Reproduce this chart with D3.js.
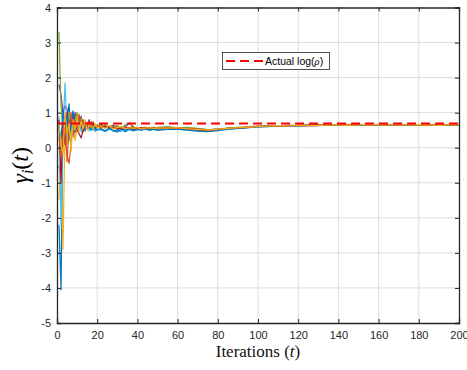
<!DOCTYPE html>
<html><head><meta charset="utf-8">
<script src="https://cdn.jsdelivr.net/npm/d3@7"></script>
<style>body{margin:0;background:#fff;} svg{display:block;}</style>
</head><body>
<script>
const iterations = [1,2,3,4,5,6,7,8,9,10,11,12,13,14,15,16,17,18,19,20,
  22,24,26,28,30,32,34,36,38,40,42,44,46,48,50,
  55,60,65,70,75,80,85,90,95,100,105,110,115,120,125,130,135,140,145,150,155,160,165,170,175,180,185,190,195,200];

const agent1 = [-2.2,-4.05,0.9,0.3,0.8,1.25,0.4,1.0,0.5,0.85,0.55,0.75,0.5,0.7,0.6,0.55,0.68,0.6,0.47,0.64,
  0.5,0.48,0.55,0.47,0.45,0.52,0.46,0.52,0.5,0.55,0.5,0.54,0.5,0.53,0.5,
  0.55,0.56,0.53,0.5,0.49,0.52,0.53,0.56,0.58,0.6,0.63,0.62,0.64,0.63,0.64,0.65,0.64,0.66,0.65,0.64,0.66,0.65,0.65,0.66,0.65,0.64,0.65,0.66,0.65,0.65];
const agent2 = [-0.5,-1.0,0.9,0.2,-0.2,-0.45,0.1,0.9,0.4,0.9,0.5,0.8,0.45,0.72,0.58,0.66,0.52,0.7,0.6,0.62,
  0.65,0.58,0.6,0.62,0.55,0.57,0.6,0.54,0.56,0.58,0.54,0.55,0.58,0.54,0.57,
  0.56,0.55,0.57,0.53,0.52,0.51,0.56,0.57,0.6,0.62,0.61,0.63,0.62,0.64,0.63,0.65,0.65,0.64,0.65,0.66,0.65,0.65,0.66,0.64,0.65,0.65,0.66,0.65,0.64,0.65];
const agent3 = [-1.5,-0.2,-2.9,0.6,0.1,0.9,0.3,0.7,0.2,0.6,0.8,0.5,0.65,0.45,0.7,0.55,0.62,0.5,0.64,0.58,
  0.55,0.62,0.57,0.6,0.52,0.56,0.58,0.55,0.53,0.57,0.56,0.54,0.57,0.56,0.53,
  0.57,0.54,0.56,0.52,0.5,0.53,0.54,0.58,0.57,0.61,0.6,0.62,0.63,0.62,0.64,0.64,0.65,0.65,0.64,0.65,0.65,0.66,0.65,0.65,0.64,0.66,0.65,0.65,0.66,0.65];
const agent4 = [1.8,1.5,1.0,1.2,1.1,0.7,0.9,0.6,1.0,0.8,0.65,0.9,0.6,0.75,0.65,0.8,0.6,0.7,0.66,0.6,
  0.66,0.6,0.58,0.64,0.58,0.55,0.6,0.7,0.6,0.54,0.57,0.56,0.54,0.58,0.56,
  0.58,0.56,0.55,0.54,0.5,0.54,0.55,0.57,0.59,0.6,0.62,0.63,0.62,0.63,0.64,0.64,0.65,0.65,0.66,0.65,0.64,0.65,0.66,0.65,0.65,0.65,0.64,0.65,0.66,0.65];
const agent5 = [3.3,1.2,0.5,0.9,0.6,1.0,0.7,0.5,0.8,1.0,0.7,0.85,0.6,0.72,0.55,0.68,0.62,0.75,0.58,0.66,
  0.62,0.66,0.58,0.6,0.63,0.56,0.66,0.7,0.57,0.53,0.58,0.55,0.57,0.55,0.58,
  0.6,0.57,0.58,0.55,0.52,0.53,0.56,0.58,0.59,0.61,0.62,0.61,0.63,0.64,0.63,0.64,0.65,0.64,0.65,0.65,0.66,0.65,0.64,0.65,0.66,0.65,0.65,0.64,0.65,0.66];
const agent6 = [0.9,-2.2,0.5,1.85,0.3,0.9,0.6,0.4,0.8,0.5,0.7,0.45,0.62,0.5,0.66,0.48,0.6,0.52,0.47,0.55,
  0.5,0.46,0.52,0.48,0.5,0.46,0.53,0.5,0.48,0.52,0.5,0.53,0.49,0.52,0.5,
  0.53,0.52,0.5,0.48,0.47,0.5,0.52,0.55,0.57,0.59,0.6,0.62,0.61,0.63,0.63,0.64,0.64,0.65,0.64,0.65,0.65,0.64,0.65,0.65,0.64,0.65,0.65,0.64,0.65,0.64];
const agent7 = [0.8,-1.0,0.7,0.1,1.0,0.5,0.9,0.6,0.7,0.5,0.4,0.28,0.5,0.62,0.55,0.7,0.58,0.62,0.55,0.6,
  0.57,0.62,0.55,0.58,0.53,0.56,0.55,0.58,0.52,0.55,0.57,0.53,0.56,0.54,0.55,
  0.54,0.55,0.53,0.51,0.49,0.52,0.55,0.56,0.58,0.6,0.61,0.62,0.63,0.63,0.64,0.63,0.65,0.64,0.65,0.65,0.65,0.66,0.65,0.64,0.65,0.65,0.65,0.66,0.65,0.65];
const agent8 = [0.6,0.2,1.1,0.5,0.9,0.2,0.7,1.05,0.45,0.7,0.9,0.55,0.75,0.5,0.62,0.58,0.5,0.64,0.55,0.5,
  0.54,0.48,0.56,0.5,0.47,0.53,0.5,0.55,0.49,0.52,0.5,0.55,0.51,0.53,0.5,
  0.52,0.53,0.5,0.47,0.46,0.49,0.53,0.55,0.57,0.6,0.61,0.62,0.62,0.63,0.64,0.64,0.65,0.65,0.65,0.64,0.65,0.65,0.66,0.65,0.65,0.65,0.65,0.65,0.64,0.65];
const agent9 = [0.3,-0.3,0.4,0.8,-0.4,0.6,1.0,0.3,0.8,0.55,0.95,0.6,0.8,0.55,0.7,0.6,0.75,0.58,0.66,0.6,
  0.63,0.57,0.62,0.55,0.6,0.55,0.58,0.56,0.6,0.54,0.57,0.58,0.55,0.57,0.56,
  0.57,0.56,0.55,0.53,0.51,0.52,0.55,0.57,0.58,0.61,0.62,0.62,0.63,0.64,0.64,0.65,0.64,0.65,0.66,0.65,0.65,0.65,0.65,0.66,0.65,0.65,0.64,0.65,0.65,0.66];
const agent10 = [0.7,0.1,-0.2,1.0,0.4,0.7,-0.1,0.8,0.5,0.9,0.45,0.75,0.55,0.8,0.5,0.65,0.6,0.55,0.68,0.57,
  0.6,0.55,0.64,0.53,0.58,0.6,0.54,0.57,0.55,0.58,0.53,0.56,0.57,0.55,0.56,
  0.56,0.57,0.54,0.52,0.5,0.53,0.55,0.57,0.59,0.6,0.62,0.63,0.62,0.64,0.63,0.64,0.65,0.65,0.64,0.65,0.66,0.65,0.65,0.65,0.65,0.66,0.65,0.64,0.65,0.65];

const agents = [agent1,agent2,agent3,agent4,agent5,agent6,agent7,agent8,agent9,agent10];
const lineColors = ["#0072BD","#D95319","#EDB120","#7E2F8E","#77AC30","#4DBEEE","#A2142F"];
const actualLogRho = 0.693;
const xTicks = [0,20,40,60,80,100,120,140,160,180,200];
const yTicks = [-5,-4,-3,-2,-1,0,1,2,3,4];

const W = 467, H = 370;
const L = 57, R = 459, T = 7.5, B = 323;
const svg = d3.select("body").append("svg").attr("width", W).attr("height", H);
const x = d3.scaleLinear().domain([0,200]).range([L,R]);
const y = d3.scaleLinear().domain([-5,4]).range([B,T]);
const axisColor = "#262626";

// grid
const grid = svg.append("g");
grid.selectAll("line.gx").data(xTicks.slice(1,-1)).join("line")
  .attr("x1", d=>x(d)).attr("x2", d=>x(d)).attr("y1", T).attr("y2", B)
  .attr("stroke","#dcdcdc").attr("stroke-width",1);
grid.selectAll("line.gy").data(yTicks.slice(1,-1)).join("line")
  .attr("y1", d=>y(d)).attr("y2", d=>y(d)).attr("x1", L).attr("x2", R)
  .attr("stroke","#dcdcdc").attr("stroke-width",1);

// series
const line = d3.line().x((d,i)=>x(iterations[i])).y(d=>y(d));
const clip = svg.append("clipPath").attr("id","clip").append("rect")
  .attr("x",L).attr("y",T).attr("width",R-L).attr("height",B-T);
const plot = svg.append("g").attr("clip-path","url(#clip)");
agents.forEach((a,k)=>{
  plot.append("path").attr("d", line(a)).attr("fill","none")
    .attr("stroke", lineColors[k % lineColors.length]).attr("stroke-width",1.2)
    .attr("stroke-linejoin","round");
});
plot.append("line").attr("x1",x(0)).attr("x2",x(200))
  .attr("y1",y(actualLogRho)).attr("y2",y(actualLogRho))
  .attr("stroke","#FF0000").attr("stroke-width",2).attr("stroke-dasharray","9,5");

// axes
const tickSize = 4;
const fmt = d => String(d);
const gxB = svg.append("g").attr("transform",`translate(0,${B})`)
  .call(d3.axisBottom(x).tickValues(xTicks).tickSize(-tickSize).tickPadding(8).tickFormat(fmt));
const gxT = svg.append("g").attr("transform",`translate(0,${T})`)
  .call(d3.axisTop(x).tickValues(xTicks).tickSize(-tickSize).tickFormat(""));
const gyL = svg.append("g").attr("transform",`translate(${L},0)`)
  .call(d3.axisLeft(y).tickValues(yTicks).tickSize(-tickSize).tickPadding(6).tickFormat(fmt));
const gyR = svg.append("g").attr("transform",`translate(${R},0)`)
  .call(d3.axisRight(y).tickValues(yTicks).tickSize(-tickSize).tickFormat(""));
[gxB,gxT,gyL,gyR].forEach(g=>{
  g.select(".domain").attr("stroke",axisColor).attr("stroke-width",1.3);
  g.selectAll(".tick line").attr("stroke",axisColor).attr("stroke-width",1);
  g.selectAll(".tick text").attr("fill",axisColor)
    .style("font-family","'Liberation Sans', Arial, sans-serif").style("font-size","11px");
});

// labels
const xl = svg.append("text").attr("x",(L+R)/2).attr("y",357).attr("text-anchor","middle")
  .style("font-family","'Liberation Serif','DejaVu Serif',serif").style("font-size","17px").attr("fill","#111");
xl.append("tspan").text("Iterations (");
xl.append("tspan").style("font-style","italic").text("t");
xl.append("tspan").text(")");

const yl = svg.append("text").attr("transform",`translate(28,${(T+B)/2}) rotate(-90)`)
  .attr("text-anchor","middle")
  .style("font-family","'Liberation Serif','DejaVu Serif',serif").style("font-size","24px").attr("fill","#000");
yl.append("tspan").style("font-style","italic").text("γ");
yl.append("tspan").style("font-style","italic").style("font-size","16px").attr("dy",5).text("i");
yl.append("tspan").attr("dy",-5).text("(");
yl.append("tspan").style("font-style","italic").text("t");
yl.append("tspan").text(")");

// legend
const lg = svg.append("g");
lg.append("rect").attr("x",222.5).attr("y",52.5).attr("width",107).attr("height",17)
  .attr("fill","#fff").attr("stroke",axisColor).attr("stroke-width",0.8);
lg.append("line").attr("x1",226).attr("x2",263).attr("y1",61).attr("y2",61)
  .attr("stroke","#FF0000").attr("stroke-width",2).attr("stroke-dasharray","9,5");
const lt = lg.append("text").attr("x",265).attr("y",65)
  .style("font-family","'Liberation Sans', Arial, sans-serif").style("font-size","10.5px").attr("fill","#000");
lt.append("tspan").text("Actual log(");
lt.append("tspan").style("font-style","italic").style("font-family","'Liberation Serif',serif").text("ρ");
lt.append("tspan").text(")");
</script>
</body></html>
